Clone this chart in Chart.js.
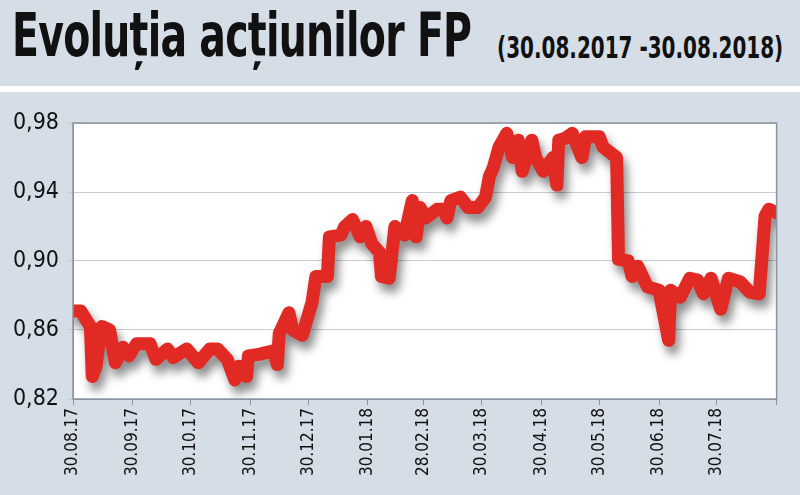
<!DOCTYPE html>
<html><head><meta charset="utf-8">
<script src="https://cdn.jsdelivr.net/npm/chart.js@4"></script>
<style>
  body { margin:0; width:800px; height:495px; background:#d5dde7; overflow:hidden; font-family:"DejaVu Sans Condensed","DejaVu Sans",sans-serif; }
  #head { position:absolute; left:0; top:0; width:800px; height:86px; background:#d5dde7; border-bottom:6px solid #fff; }
  #title { position:absolute; left:12px; top:0px; font-size:60px; font-weight:bold; color:#111; transform:scaleX(0.73); transform-origin:left top; white-space:nowrap; letter-spacing:-1px; }
  #sub { position:absolute; left:497px; top:30px; font-size:30px; font-weight:bold; color:#111; transform:scaleX(0.74); transform-origin:left top; white-space:nowrap; }
  #wrap { position:absolute; left:0; top:92px; width:800px; height:403px; }
</style></head>
<body>
<div id="head"><div id="title">Evoluția acțiunilor FP</div><div id="sub">(30.08.2017 -30.08.2018)</div></div>
<div id="wrap"><canvas id="c"></canvas></div>
<script>
// day offset from 30.08.2017
const days = [0,4,9,10,12,13,15,19,22,26,29,33,40,43,49,52,59,65,71,75,80,84,86,90,91,97,104,106,107,112,114,119,124,126,132,133,139,141,145,149,152,155,159,160,164,167,169,172,176,178,180,183,189,192,194,196,201,205,210,214,216,218,221,225,228,231,233,238,240,244,249,251,252,255,259,264,266,273,275,282,283,288,290,293,298,304,309,310,315,320,324,327,331,336,340,346,351,356,359,361,365];
const prices = [0.871,0.871,0.862,0.833,0.839,0.848,0.862,0.860,0.841,0.850,0.845,0.852,0.852,0.843,0.849,0.844,0.849,0.841,0.849,0.849,0.843,0.831,0.839,0.833,0.845,0.846,0.848,0.840,0.858,0.870,0.860,0.857,0.876,0.891,0.891,0.914,0.915,0.920,0.924,0.914,0.920,0.910,0.905,0.891,0.890,0.920,0.918,0.915,0.935,0.914,0.931,0.925,0.930,0.930,0.925,0.935,0.937,0.931,0.931,0.937,0.949,0.954,0.966,0.974,0.960,0.970,0.952,0.970,0.960,0.952,0.960,0.944,0.970,0.971,0.974,0.960,0.972,0.972,0.966,0.960,0.901,0.900,0.891,0.897,0.885,0.883,0.854,0.883,0.879,0.890,0.889,0.881,0.890,0.872,0.890,0.888,0.882,0.881,0.926,0.930,0.928];
const tickDays = [0,31,61,92,122,153,182,212,243,273,304,334,365];
const tickLabels = ['30.08.17','30.09.17','30.10.17','30.11.17','30.12.17','30.01.18','28.02.18','30.03.18','30.04.18','30.05.18','30.06.18','30.07.18',''];
const yTicks = [0.82,0.86,0.90,0.94,0.98];

const shadow = {
  id:'shadow',
  beforeDatasetDraw(chart){ const c=chart.ctx; c.save(); c.shadowColor='rgba(0,0,0,0.45)'; c.shadowBlur=10; c.shadowOffsetX=4; c.shadowOffsetY=8; },
  afterDatasetDraw(chart){ chart.ctx.restore(); }
};
const plotBg = {
  id:'plotBg',
  beforeDraw(chart){ const a=chart.chartArea, c=chart.ctx; c.save(); c.fillStyle='#fff'; c.fillRect(a.left,a.top,a.right-a.left,a.bottom-a.top); c.restore(); },
  afterDraw(chart){ const a=chart.chartArea, c=chart.ctx; c.save(); c.strokeStyle='#8a94a0'; c.lineWidth=1.5; c.strokeRect(a.left,a.top,a.right-a.left,a.bottom-a.top); c.restore(); }
};

new Chart(document.getElementById('c'), {
  type:'line',
  data:{ datasets:[{ data: days.map((d,i)=>({x:d,y:prices[i]})), borderColor:'#e12a24', borderWidth:13, pointRadius:0, tension:0, borderJoinStyle:'round', borderCapStyle:'round' }] },
  options:{
    responsive:true, maintainAspectRatio:false, animation:false,
    layout:{ padding:{ top:31, right:23, left:8, bottom:0 } },
    plugins:{ legend:{display:false}, tooltip:{enabled:false} },
    scales:{
      x:{ type:'linear', min:0, max:365,
        afterBuildTicks(s){ s.ticks = tickDays.map(v=>({value:v})); },
        afterFit(s){ s.height = 96; },
        ticks:{ autoSkip:false, maxRotation:90, minRotation:90, color:'#111', font:{ family:'DejaVu Sans Condensed', size:17 },
          callback:(v)=>tickLabels[tickDays.indexOf(v)] },
        grid:{ display:true, drawOnChartArea:false, tickLength:6, color:'#8a94a0' }, border:{ color:'#8a94a0' } },
      y:{ min:0.82, max:0.98,
        afterBuildTicks(s){ s.ticks = yTicks.map(v=>({value:v})); },
        afterFit(s){ s.width = 65; },
        ticks:{ color:'#111', padding:8, font:{ family:'DejaVu Sans Condensed', size:23 }, callback:(v)=>v.toFixed(2).replace('.',',') },
        grid:{ color:'#c8cdd3', tickLength:6 }, border:{ color:'#8a94a0' } }
    }
  },
  plugins:[plotBg, shadow]
});
</script>
</body></html>
